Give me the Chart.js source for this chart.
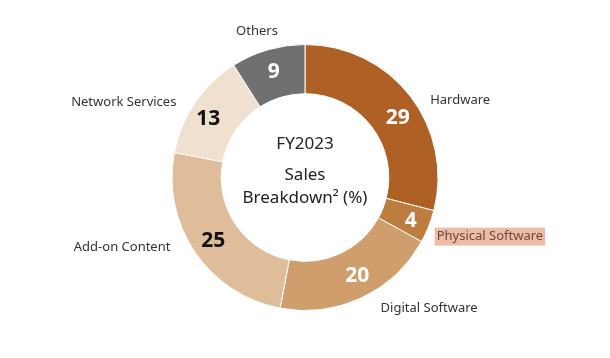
<!DOCTYPE html>
<html>
<head>
<meta charset="utf-8">
<script src="https://cdn.jsdelivr.net/npm/chart.js@4/dist/chart.umd.min.js"></script>
<style>
html,body{margin:0;padding:0;background:#fff;}
#wrap{width:610px;height:358px;}
</style>
</head>
<body>
<div id="wrap"><canvas id="c" width="610" height="358"></canvas></div>
<script>
const categories = ["Hardware", "Physical Software", "Digital Software", "Add-on Content", "Network Services", "Others"];
const values = [29, 4, 20, 25, 13, 9];
const centerTitle = "FY2023";
const centerLines = ["Sales", "Breakdown\u00B2 (%)"];

const sliceColors = ["#AF6024", "#BD7D3F", "#CF9E6C", "#DFBD9B", "#EFE0CF", "#707070"];
const valueColors = ["#ffffff", "#ffffff", "#ffffff", "#111111", "#111111", "#ffffff"];
const highlightIndex = 1;

const FONT = "'Noto Sans', 'Open Sans', sans-serif";

const labelPlugin = {
  id: 'labels',
  afterDatasetsDraw(chart, args, opts) {
    const ctx = chart.ctx;
    const meta = chart.getDatasetMeta(0);
    const lNudge = opts.labelNudge || [];
    const vNudge = opts.valueNudge || [];
    ctx.save();
    meta.data.forEach((arc, i) => {
      const p = arc.getProps(['x','y','startAngle','endAngle','innerRadius','outerRadius']);
      const mid = (p.startAngle + p.endAngle) / 2;
      const vn = vNudge[i] || [0, 0];
      const ln = lNudge[i] || [0, 0];
      // value in ring
      const rv = (p.innerRadius + p.outerRadius) / 2;
      ctx.font = "bold 21px " + FONT;
      ctx.fillStyle = valueColors[i];
      ctx.textAlign = 'center';
      ctx.textBaseline = 'middle';
      ctx.fillText(String(values[i]), p.x + Math.cos(mid) * rv + vn[0], p.y + Math.sin(mid) * rv + 1 + vn[1]);
      // outside label
      const ro = p.outerRadius + 14;
      const lx = p.x + Math.cos(mid) * ro;
      const ly = p.y + Math.sin(mid) * ro;
      const cs = Math.cos(mid);
      ctx.font = "13px " + FONT;
      let align, tx = lx + ln[0], ty = ly + ln[1];
      if (Math.abs(cs) < 0.35 && Math.sin(mid) < 0) {
        align = 'center'; ty -= 8;
      } else if (cs >= 0) {
        align = 'left';
      } else {
        align = 'right';
      }
      ctx.textAlign = align;
      ctx.textBaseline = 'middle';
      const txt = categories[i];
      const w = ctx.measureText(txt).width;
      if (i === highlightIndex) {
        let bx = align === 'left' ? tx : (align === 'right' ? tx - w : tx - w / 2);
        ctx.fillStyle = "#EDBBA6";
        ctx.fillRect(bx - 2, ty - 9, w + 4, 18);
        ctx.fillStyle = "#6a4a3e";
      } else {
        ctx.fillStyle = "#333333";
      }
      ctx.fillText(txt, tx, ty);
    });
    // center text
    const a = meta.data[0];
    const cx = a.x, cy = a.y;
    ctx.fillStyle = "#222222";
    ctx.textAlign = 'center';
    ctx.textBaseline = 'middle';
    ctx.font = "17px " + FONT;
    ctx.fillText(centerTitle, cx, cy - 33);
    ctx.fillText(centerLines[0], cx, cy - 2);
    ctx.fillText(centerLines[1], cx, cy + 21);
    ctx.restore();
  }
};

new Chart(document.getElementById('c'), {
  type: 'doughnut',
  data: {
    labels: categories,
    datasets: [{
      data: values,
      backgroundColor: sliceColors,
      borderColor: '#ffffff',
      borderWidth: 1
    }]
  },
  options: {
    responsive: false,
    animation: false,
    cutout: '63%',
    layout: { padding: { top: 44, bottom: 47, left: 20, right: 20 } },
    plugins: {
      legend: { display: false },
      tooltip: { enabled: false },
      labels: {
        labelNudge: [[9, 13], [-5, 5], [13, -2], [-13, -13], [-7, 7], [-7, 3]],
        valueNudge: [[7, 6], [5, 3], [6, -1], [-2, 2], [-7, 1], [-1, -2]]
      }
    }
  },
  plugins: [labelPlugin]
});
</script>
</body>
</html>
